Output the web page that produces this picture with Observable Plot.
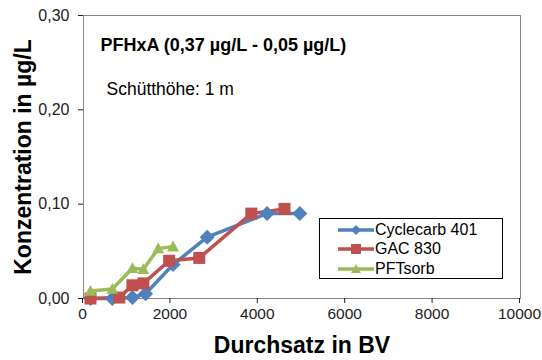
<!DOCTYPE html>
<html><head><meta charset="utf-8">
<script src="https://cdn.jsdelivr.net/npm/d3@7"></script>
<script src="https://cdn.jsdelivr.net/npm/@observablehq/plot@0.6"></script>
<style>
body{margin:0;background:#fff;font-family:"Liberation Sans",Arial,sans-serif;}
#wrap{position:relative;width:542px;height:360px;}
#legend{position:absolute;left:319px;top:218px;width:184px;height:61px;border:1px solid #000;background:#fff;font-size:16px;color:#000;box-sizing:border-box;padding-top:1px;}
#legend .row{display:flex;align-items:center;height:19.5px;padding-left:18px;}
#legend svg{margin-right:1px;}
</style></head>
<body><div id="wrap"><div id="chart"></div><div id="legend"></div></div>
<script>
const seriesNames = ["Cyclecarb 401", "GAC 830", "PFTsorb"];
const colors = ["#4F81BD", "#C0504D", "#9BBB59"];
const cycX = [160, 660, 1120, 1420, 2050, 2830, 4200, 4950];
const cycY = [0.000, 0.000, 0.001, 0.005, 0.036, 0.065, 0.090, 0.090];
const gacX = [160, 820, 1120, 1370, 1960, 2650, 3840, 4600];
const gacY = [0.000, 0.001, 0.014, 0.016, 0.040, 0.043, 0.090, 0.095];
const pftX = [160, 660, 1120, 1370, 1710, 2050];
const pftY = [0.008, 0.010, 0.032, 0.031, 0.053, 0.055];
const xTicks = [0, 2000, 4000, 6000, 8000, 10000];
const yTicks = [0, 0.1, 0.2, 0.3];
const title = "PFHxA (0,37 µg/L - 0,05 µg/L)";
const note = "Schütthöhe: 1 m";

// Excel-like marker shapes (size = pi*r^2 in Plot)
const diamondSym = {draw(c, size) { const r = Math.sqrt(size / Math.PI); c.moveTo(0, -r); c.lineTo(r, 0); c.lineTo(0, r); c.lineTo(-r, 0); c.closePath(); }};
const squareSym = {draw(c, size) { const r = Math.sqrt(size / Math.PI); c.rect(-r, -r, 2 * r, 2 * r); }};
const triangleSym = {draw(c, size) { const r = Math.sqrt(size / Math.PI); c.moveTo(0, -r); c.lineTo(r, r * 0.8); c.lineTo(-r, r * 0.8); c.closePath(); }};
const syms = [diamondSym, squareSym, triangleSym];
const radii = [7.5, 6, 6];

const xs = [cycX, gacX, pftX], ys = [cycY, gacY, pftY];
const data = [];
seriesNames.forEach((s, i) => xs[i].forEach((x, j) => data.push({series: s, x, y: ys[i][j]})));

const marks = [
  Plot.frame({stroke: "#868686"}),
  Plot.axisX({ticks: xTicks, tickFormat: d => String(d), tickSize: 5, fontSize: 15.5, tickPadding: 4, dx: -1, label: "Durchsatz in BV", labelAnchor: "center", labelArrow: "none", labelOffset: 54, color: "#222"}),
  Plot.axisY({ticks: yTicks, tickFormat: d => d.toFixed(2).replace(".", ","), tickSize: 5, fontSize: 16, tickPadding: 9, label: "Konzentration in µg/L", labelAnchor: "center", labelArrow: "none", labelOffset: 69, color: "#222"}),
  Plot.text([title], {frameAnchor: "top-left", dx: 17, dy: 23, fontSize: 18, fontWeight: "bold", textAnchor: "start", fill: "#000"}),
  Plot.text([note], {frameAnchor: "top-left", dx: 23, dy: 67, fontSize: 17.5, textAnchor: "start", fill: "#000"})
];
seriesNames.forEach((s, i) => {
  const d = data.filter(r => r.series === s);
  marks.push(Plot.line(d, {x: "x", y: "y", stroke: colors[i], strokeWidth: 3.5}));
});
seriesNames.forEach((s, i) => {
  const d = data.filter(r => r.series === s);
  marks.push(Plot.dot(d, {x: "x", y: "y", symbol: syms[i], fill: colors[i], r: radii[i], stroke: "none"}));
});

const chart = Plot.plot({
  width: 542, height: 360,
  marginLeft: 83, marginRight: 22, marginTop: 15, marginBottom: 62,
  x: {domain: [0, 10000]},
  y: {domain: [0, 0.3]},
  style: {fontFamily: "'Liberation Sans', Arial, sans-serif", background: "#fff"},
  marks
});
d3.select(chart).selectAll('[aria-label="x-axis label"], [aria-label="y-axis label"]')
  .attr("font-size", 23).attr("font-weight", "bold").attr("fill", "#000");
document.getElementById("chart").appendChild(chart);

const leg = d3.select("#legend");
seriesNames.forEach((s, i) => {
  const row = leg.append("div").attr("class", "row");
  const svg = row.append("svg").attr("width", 36).attr("height", 14);
  svg.append("line").attr("x1", 0).attr("x2", 36).attr("y1", 7).attr("y2", 7).attr("stroke", colors[i]).attr("stroke-width", 3.5);
  const p = d3.path(); syms[i].draw(p, Math.PI * 25);
  svg.append("path").attr("transform", "translate(18,7)").attr("fill", colors[i]).attr("d", p.toString());
  row.append("span").text(s);
});
</script></body></html>
